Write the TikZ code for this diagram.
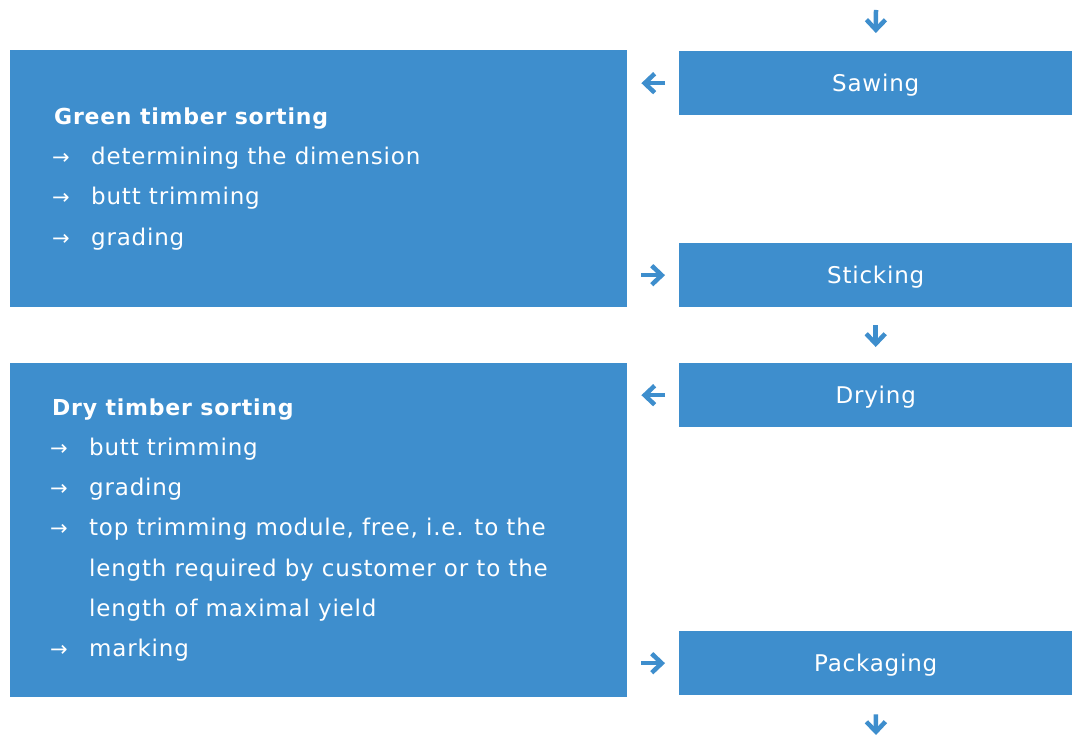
\documentclass[tikz,border=0pt]{standalone}
\usepackage{fontspec}
\setmainfont{DejaVu Sans}[LetterSpace=3.5]
\newfontfamily\bulfont{DejaVu Sans}
\usetikzlibrary{arrows.meta}
\definecolor{boxblue}{RGB}{62,142,205}
\tikzset{
  box/.style={fill=boxblue, draw=none, inner sep=0pt, anchor=north west},
  stepbox/.style={box, minimum width=393pt, minimum height=64pt, text=white, text height=16pt, text depth=0pt, font=\fontsize{23}{26}\selectfont},
  title/.style={anchor=base west, text=white, inner sep=0pt, font=\fontsize{22}{26}\selectfont\bfseries},
  item/.style={anchor=base west, text=white, inner sep=0pt, font=\fontsize{23}{26}\selectfont},
  bul/.style={anchor=base west, text=white, inner sep=0pt, font=\bulfont\fontsize{21}{23}\selectfont},
  arr/.style={draw=boxblue, line width=4.5pt, -{Straight Barb[length=10pt,width=19pt,line width=4.5pt]}}
}
\begin{document}
\begin{tikzpicture}[x=1pt,y=-1pt]
\useasboundingbox (0,0) rectangle (1073,735);
% left boxes
\node[box, minimum width=617pt, minimum height=257pt] (green) at (10,50) {};
\node[box, minimum width=617pt, minimum height=334pt] (dry) at (10,363) {};
% step boxes
\node[stepbox] (saw) at (679,51) {Sawing};
\node[stepbox] (stick) at (679,243) {Sticking};
\node[stepbox] (dryg) at (679,363) {Drying};
\node[stepbox] (pack) at (679,631) {Packaging};
% green text
\node[title] (gt) at (54,125) {Green timber sorting};
\node[bul] (gb1) at (52,165) {→};
\node[item] (gi1) at (91,165) {determining the dimension};
\node[bul] (gb2) at (52,205) {→};
\node[item] (gi2) at (91,205) {butt trimming};
\node[bul] (gb3) at (52,246) {→};
\node[item] (gi3) at (91,246) {grading};
% dry text
\node[title] (dt) at (52,415) {Dry timber sorting};
\node[bul] (db1) at (50,455) {→};
\node[item] (di1) at (89,455) {butt trimming};
\node[bul] (db2) at (50,495) {→};
\node[item] (di2) at (89,495) {grading};
\node[bul] (db3) at (50,535) {→};
\node[item] (di3) at (89,535) {top trimming module, free, i.e. to the};
\node[item] (di4) at (89,576) {length required by customer or to the};
\node[item] (di5) at (89,616) {length of maximal yield};
\node[bul] (db4) at (50,656) {→};
\node[item] (di6) at (89,656) {marking};
% connectors
\coordinate (top) at (876,10);
\coordinate (bot) at (876,735);
\draw[arr, shorten >=18pt] (top) -- (saw.north);
\draw[arr, shorten <=14pt, shorten >=14pt] (saw.west) -- (saw.west -| green.east);
\draw[arr, shorten <=14pt, shorten >=14pt] (stick.west -| green.east) -- (stick.west);
\draw[arr, shorten <=18pt, shorten >=16pt] (stick.south) -- (dryg.north);
\draw[arr, shorten <=14pt, shorten >=14pt] (dryg.west) -- (dryg.west -| dry.east);
\draw[arr, shorten <=14pt, shorten >=14pt] (pack.west -| dry.east) -- (pack.west);
\draw[arr, shorten <=19pt] (pack.south) -- (bot);
\end{tikzpicture}
\end{document}
